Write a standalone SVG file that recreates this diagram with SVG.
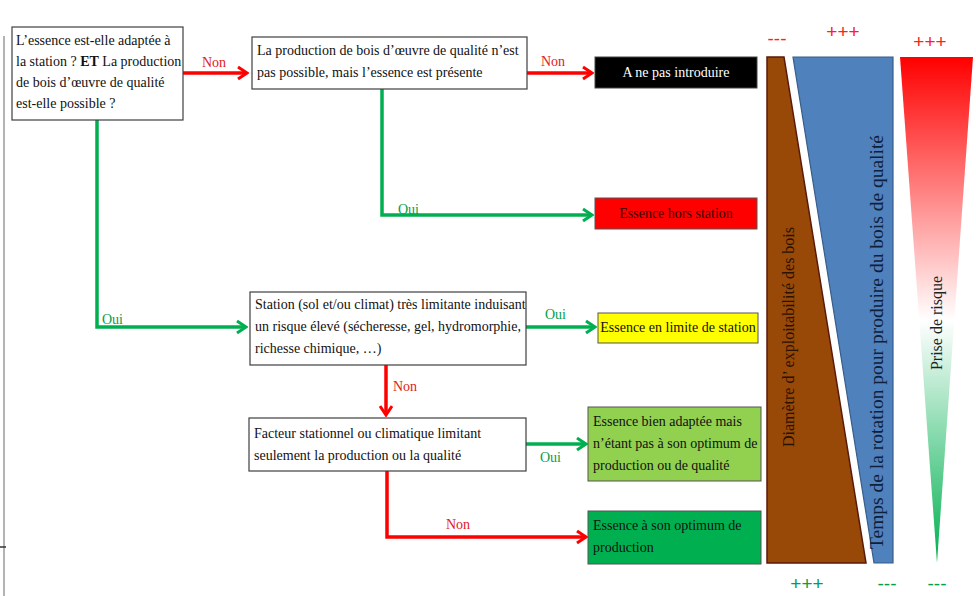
<svg xmlns="http://www.w3.org/2000/svg" width="976" height="596" viewBox="0 0 976 596">
<style>
.box{fill:#fff;stroke:#3f3f3f;stroke-width:1.2}
.t{font-family:"Liberation Serif","Times New Roman",serif;font-size:14px;fill:#111}
.lbl{font-family:"Liberation Serif","Times New Roman",serif;font-size:14px}
.r{stroke:#ff0000;stroke-width:3.5;fill:none}
.g{stroke:#00b050;stroke-width:3.5;fill:none}
.sym{font-family:"Liberation Sans",Arial,sans-serif;font-size:19px;text-anchor:middle}
.rot{font-family:"Liberation Serif","Times New Roman",serif;text-anchor:middle}
</style>
<defs>
<marker id="ar" viewBox="0 0 12 14" refX="10" refY="7" markerWidth="12" markerHeight="14" markerUnits="userSpaceOnUse" orient="auto">
<path d="M1,1 L10,7 L1,13" fill="none" stroke="#ff0000" stroke-width="3"/>
</marker>
<marker id="ag" viewBox="0 0 12 14" refX="10" refY="7" markerWidth="12" markerHeight="14" markerUnits="userSpaceOnUse" orient="auto">
<path d="M1,1 L10,7 L1,13" fill="none" stroke="#00b050" stroke-width="3"/>
</marker>
<linearGradient id="risk" x1="0" y1="0" x2="0" y2="1">
<stop offset="0" stop-color="#ff0000"/>
<stop offset="0.52" stop-color="#ffffff"/>
<stop offset="1" stop-color="#00b050"/>
</linearGradient>
</defs>
<rect width="976" height="596" fill="#fff"/>
<g id="frame">
<line x1="4" y1="36" x2="4" y2="596" stroke="#9a9a9a" stroke-width="1.5"/>
<line x1="0" y1="547" x2="6" y2="547" stroke="#333" stroke-width="1.5"/>
</g>
<g id="connectors">
<path class="r" d="M183,73 H247" marker-end="url(#ar)"/>
<text class="lbl" x="202" y="67" fill="#e02020">Non</text>
<path class="r" d="M527,73 H592" marker-end="url(#ar)"/>
<text class="lbl" x="541" y="66" fill="#e02020">Non</text>
<path class="g" d="M382,89 V215 H592" marker-end="url(#ag)"/>
<text class="lbl" x="398" y="214" fill="#00a050">Oui</text>
<path class="g" d="M97,120 V327 H246" marker-end="url(#ag)"/>
<text class="lbl" x="102" y="324" fill="#00a050">Oui</text>
<path class="g" d="M526,327 H595" marker-end="url(#ag)"/>
<text class="lbl" x="545" y="319" fill="#00a050">Oui</text>
<path class="r" d="M386,365 V415" marker-end="url(#ar)"/>
<text class="lbl" x="393" y="391" fill="#e02020">Non</text>
<path class="g" d="M526,444 H586" marker-end="url(#ag)"/>
<text class="lbl" x="540" y="462" fill="#00a050">Oui</text>
<path class="r" d="M387,471 V537 H586" marker-end="url(#ar)"/>
<text class="lbl" x="446" y="529" fill="#e02020">Non</text>
</g>
<g id="n1">
<rect class="box" x="12" y="27" width="171" height="93"/>
<text class="t" x="16" y="45">L’essence est-elle adaptée à</text>
<text class="t" x="16" y="66">la station ? <tspan font-weight="bold">ET</tspan> La production</text>
<text class="t" x="16" y="87">de bois d’œuvre de qualité</text>
<text class="t" x="16" y="108">est-elle possible ?</text>
</g>
<g id="n2">
<rect class="box" x="252" y="37" width="275" height="52"/>
<text class="t" x="257" y="55">La production de bois d’œuvre de qualité n’est</text>
<text class="t" x="257" y="77">pas possible, mais l’essence est présente</text>
</g>
<g id="n3">
<rect x="595" y="57" width="162" height="31" fill="#000" stroke="#444" stroke-width="1"/>
<text class="t" x="676" y="77" text-anchor="middle" style="fill:#fff">A ne pas introduire</text>
</g>
<g id="n4">
<rect x="595" y="198" width="162" height="31" fill="#ff0000" stroke="#555" stroke-width="1"/>
<text class="t" x="676" y="218" text-anchor="middle" style="fill:#3a0000">Essence hors station</text>
</g>
<g id="n5">
<rect class="box" x="250" y="292" width="276" height="73"/>
<text class="t" x="255" y="309">Station (sol et/ou climat) très limitante induisant</text>
<text class="t" x="255" y="331">un risque élevé (sécheresse, gel, hydromorphie,</text>
<text class="t" x="255" y="353">richesse chimique, …)</text>
</g>
<g id="n6">
<rect x="598" y="313" width="160" height="30" fill="#ffff00" stroke="#555" stroke-width="1"/>
<text class="t" x="678" y="332" text-anchor="middle">Essence en limite de station</text>
</g>
<g id="n7">
<rect class="box" x="249" y="418" width="277" height="53"/>
<text class="t" x="254" y="438">Facteur stationnel ou climatique limitant</text>
<text class="t" x="254" y="460">seulement la production ou la qualité</text>
</g>
<g id="n8">
<rect x="588" y="407" width="173" height="74" fill="#92d050" stroke="#555" stroke-width="1"/>
<text class="t" x="593" y="426">Essence bien adaptée mais</text>
<text class="t" x="593" y="448">n’étant pas à son optimum de</text>
<text class="t" x="593" y="470">production ou de qualité</text>
</g>
<g id="n9">
<rect x="588" y="511" width="173" height="53" fill="#00b050" stroke="#555" stroke-width="1"/>
<text class="t" x="593" y="530">Essence à son optimum de</text>
<text class="t" x="593" y="552">production</text>
</g>
<g id="scale-diametre">
<polygon points="767,57 784,57 866,563 767,563" fill="#984807" stroke="#5a1a0a" stroke-width="1.5"/>
<text class="rot" font-size="16" transform="translate(794,337) rotate(-90)" fill="#2a1200">Diamètre d’ exploitabilité des bois</text>
<text class="sym" x="777" y="45" fill="#ff2020">---</text>
<text class="sym" x="807" y="590" fill="#00a050">+++</text>
</g>
<g id="scale-temps">
<polygon points="793,57 893,57 893,563 874,563" fill="#4f81bd" stroke="#385d8a" stroke-width="1.2"/>
<text class="rot" font-size="19.5" transform="translate(883,342) rotate(-90)" fill="#10203a">Temps de la rotation pour produire du bois de qualité</text>
<text class="sym" x="843" y="38" fill="#ff2020">+++</text>
<text class="sym" x="887" y="590" fill="#00a050">---</text>
</g>
<g id="scale-risque">
<polygon points="900,57 973,57 937,563" fill="url(#risk)"/>
<text class="rot" font-size="16" transform="translate(942,323) rotate(-90)" fill="#222">Prise de risque</text>
<text class="sym" x="930" y="48" fill="#ff2020">+++</text>
<text class="sym" x="937" y="590" fill="#00a050">---</text>
</g>
</svg>
